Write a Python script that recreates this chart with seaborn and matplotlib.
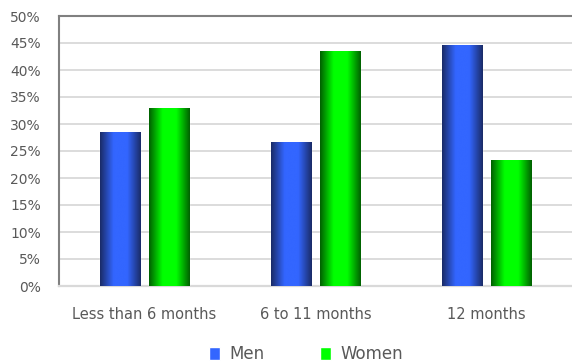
import matplotlib
matplotlib.use("Agg")
import matplotlib.pyplot as plt
import seaborn as sns
import pandas as pd
import numpy as np
from matplotlib.colors import LinearSegmentedColormap

categories = ["Less than 6 months", "6 to 11 months", "12 months"]
men = [28.6, 26.7, 44.7]
women = [32.9, 43.6, 23.4]
series = ["Men", "Women"]
yticks = [0, 5, 10, 15, 20, 25, 30, 35, 40, 45, 50]

df = pd.DataFrame({
    "category": categories * 2,
    "value": men + women,
    "sex": ["Men"] * 3 + ["Women"] * 3,
})

sns.set_theme(style="white")
plt.rcParams["font.family"] = ["DejaVu Sans"]

fig = plt.figure(figsize=(5.72, 3.63), dpi=100)
ax = fig.add_axes([59/572, 77/363, 1 - 59/572, (286-16)/363])

palette = {"Men": "#3366ff", "Women": "#00ff00"}
sns.barplot(data=df, x="category", y="value", hue="sex", order=categories,
            hue_order=series, palette=palette, width=0.573, gap=0.18,
            saturation=1, ax=ax, zorder=3)

cmaps = {
    "Men": LinearSegmentedColormap.from_list("b", ["#1a2b66", "#3366ff", "#3366ff", "#1a2b66"]),
    "Women": LinearSegmentedColormap.from_list("g", ["#005f00", "#00ff00", "#00ff00", "#005f00"]),
}
grad = np.linspace(0, 1, 256).reshape(1, -1)
for cont, name in zip(ax.containers, series):
    for p in cont:
        x0, y0 = p.get_x(), p.get_y()
        w, h = p.get_width(), p.get_height()
        im = ax.imshow(grad, cmap=cmaps[name], aspect="auto",
                       extent=[x0, x0 + w, y0, y0 + h], zorder=4)
        im.set_clip_path(p)

ax.set_xlim(-0.5, 2.5)
ax.set_ylim(0, 50)
ax.set_yticks(yticks)
ax.set_yticklabels([f"{t}%" for t in yticks])
ax.yaxis.grid(True, color="#dcdcdc", linewidth=1.4, zorder=0)
ax.set_axisbelow(True)
ax.set_xlabel("")
ax.set_ylabel("")
ax.tick_params(axis="both", length=0, colors="#595959", labelsize=10)
ax.tick_params(axis="x", pad=15, labelsize=10.5)
ax.tick_params(axis="y", pad=13)
for s in ["left", "top"]:
    ax.spines[s].set_color("#808080")
    ax.spines[s].set_linewidth(1.5)
ax.spines["bottom"].set_color("#d9d9d9")
ax.spines["bottom"].set_linewidth(1.6)
ax.spines["right"].set_visible(False)

handles, labels = ax.get_legend_handles_labels()
ax.get_legend().remove()
fig.legend(handles, labels, loc="center", bbox_to_anchor=(0.535, 0.025), ncol=2,
           frameon=False, fontsize=12, labelcolor="#595959", handlelength=0.65,
           handleheight=0.85, handletextpad=0.6, columnspacing=3.3)

fig.savefig("out.png", dpi=100)
